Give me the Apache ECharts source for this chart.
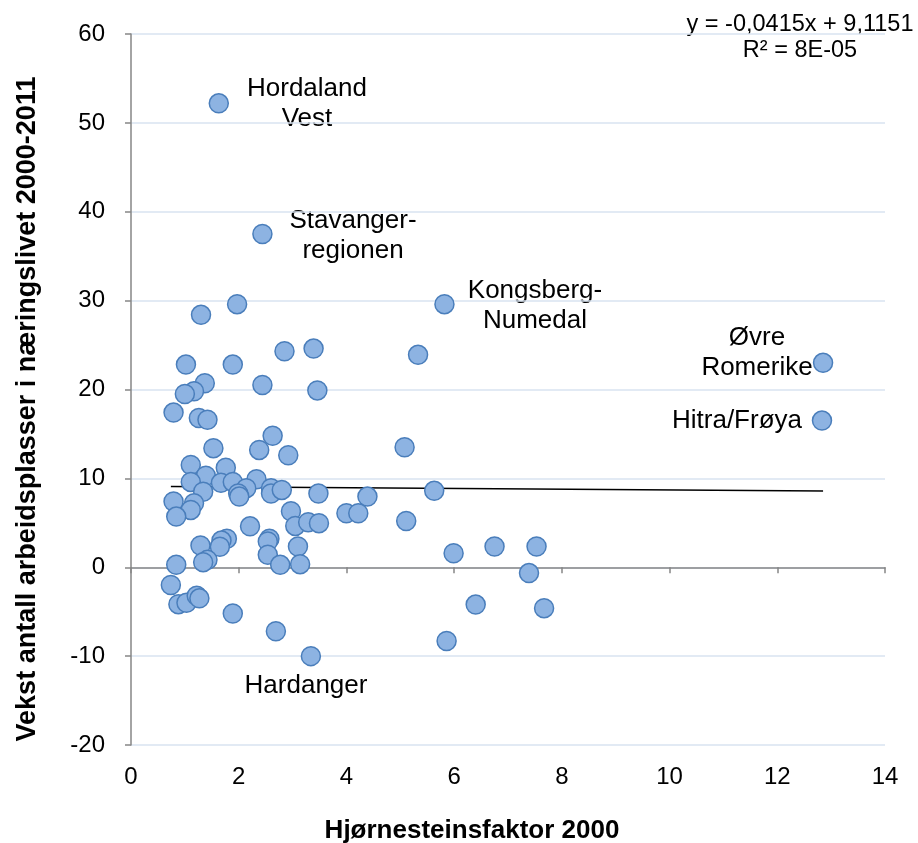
<!DOCTYPE html>
<html>
<head>
<meta charset="utf-8">
<script src="https://cdn.jsdelivr.net/npm/echarts@6/dist/echarts.min.js"></script>
<style>
  html, body { margin: 0; padding: 0; background: #fff; }
  #main { width: 918px; height: 843px; }
</style>
</head>
<body>
<div id="main"></div>
<script>
// hjørnesteinsfaktor (x) og vekst (y) per region
var hjornestein = [
  1.63, 2.44, 5.82, 12.85, 12.83, 3.34, 1.30, 1.97, 2.85, 3.39,
  5.33, 1.02, 1.89, 1.37, 1.17, 1.00, 2.44, 3.46, 0.79, 1.26,
  1.42, 1.53, 2.63, 2.38, 2.92, 1.11, 1.76, 1.39, 1.11, 1.67,
  1.89, 2.33, 2.14, 1.99, 2.01, 1.34, 2.60, 2.60, 2.80, 3.48,
  4.39, 0.79, 1.17, 1.11, 0.84, 2.97, 3.05, 3.29, 3.49, 4.00,
  4.22, 2.21, 1.78, 1.68, 1.65, 1.29, 1.42, 1.34, 0.84, 2.57,
  2.54, 2.54, 2.77, 3.10, 3.14, 0.74, 5.08, 5.63, 5.11, 5.99,
  6.75, 7.53, 7.39, 6.40, 7.67, 5.86, 0.88, 1.03, 1.22, 1.27,
  1.89, 2.69
]
var vekst = [
  52.2, 37.5, 29.6, 23.0, 16.5, -10.0, 28.4, 29.6, 24.3, 24.6,
  23.9, 22.8, 22.8, 20.7, 19.8, 19.5, 20.5, 19.9, 17.4, 16.8,
  16.6, 13.4, 14.8, 13.2, 12.6, 11.5, 11.2, 10.3, 9.6, 9.5,
  9.6, 9.9, 8.9, 8.3, 7.95, 8.5, 8.9, 8.3, 8.7, 8.3,
  7.95, 7.4, 7.2, 6.45, 5.7, 6.3, 4.65, 5.07, 4.96, 6.08,
  6.08, 4.6, 3.2, 3.0, 2.3, 2.45, 0.83, 0.57, 0.27, 3.2,
  2.9, 1.4, 0.27, 2.33, 0.35, -2.0, 13.5, 8.6, 5.2, 1.58,
  2.33, 2.33, -0.66, -4.2, -4.6, -8.3, -4.15, -4.0, -3.2, -3.5,
  -5.2, -7.2
]
// lineær trendlinje (endepunkter)
var trendX = [0.74, 12.85]
var trendY = [9.08, 8.58]
var trendTekst = ['y = -0,0415x + 9,1151', 'R² = 8E-05']

var regionTekst = ['Hordaland\nVest', 'Stavanger-\nregionen', 'Kongsberg-\nNumedal', 'Øvre\nRomerike', 'Hitra/Frøya', 'Hardanger']
// plassering av etikettene (px)
var regionPos = [[307, 104], [353, 236], [535, 306], [757, 353], [737, 421], [306, 686]]

var punkter = hjornestein.map(function (x, i) { return [x, vekst[i]] })
var trend = trendX.map(function (x, i) { return [x, trendY[i]] })

var font = 'Liberation Sans, Arial, sans-serif'
var myChart = echarts.init(document.getElementById('main'))

var graphics = regionTekst.map(function (t, i) {
  return {
    type: 'text',
    x: regionPos[i][0],
    y: regionPos[i][1],
    style: {
      text: t, fill: '#000', font: '26px ' + font, lineHeight: 30,
      align: 'center', verticalAlign: 'middle'
    }
  }
})
graphics.push({
  type: 'text', x: 800, y: 38,
  style: { text: trendTekst.join('\n'), fill: '#000', font: '23.5px ' + font, lineHeight: 26, align: 'center', verticalAlign: 'middle' }
})
graphics.push({
  type: 'text', x: 472, y: 831,
  style: { text: 'Hjørnesteinsfaktor 2000', fill: '#000', font: 'bold 26px ' + font, align: 'center', verticalAlign: 'middle' }
})
graphics.push({
  type: 'text', x: 28, y: 409, rotation: Math.PI / 2,
  style: { text: 'Vekst antall arbeidsplasser i næringslivet 2000-2011', fill: '#000', font: 'bold 27px ' + font, align: 'center', verticalAlign: 'middle' }
})

var option = {
  animation: false,
  grid: { left: 131, right: 33, top: 34, bottom: 98, containLabel: false },
  xAxis: [
    {
      type: 'value', min: 0, max: 14, interval: 2,
      axisLine: { show: false, onZero: false },
      axisTick: { show: false },
      splitLine: { show: false },
      axisLabel: { fontSize: 24, color: '#000', fontFamily: font, margin: 20 }
    },
    {
      type: 'value', min: 0, max: 14, interval: 2, position: 'bottom',
      axisLine: { show: true, onZero: true, lineStyle: { color: '#868686', width: 1.5 } },
      axisTick: { show: true, length: 6, lineStyle: { color: '#868686', width: 1.5 } },
      axisLabel: { show: false },
      splitLine: { show: false }
    }
  ],
  yAxis: {
    type: 'value', min: -20, max: 60, interval: 10,
    axisLine: { show: true, lineStyle: { color: '#868686', width: 1.5 } },
    axisTick: { show: true, length: 6, lineStyle: { color: '#868686', width: 1.5 } },
    axisLabel: { fontSize: 24, color: '#000', fontFamily: font, margin: 26 },
    splitLine: { lineStyle: { color: '#D9E3F1', width: 1.5 } }
  },
  series: [
    {
      type: 'line',
      data: trend,
      symbol: 'none',
      lineStyle: { color: '#000', width: 1.5 },
      z: 3
    },
    {
      type: 'scatter',
      data: punkter,
      symbol: 'circle',
      symbolSize: 19,
      itemStyle: { color: '#8DB3E2', borderColor: '#4A7EBB', borderWidth: 1.5, opacity: 1 },
      z: 4
    }
  ],
  graphic: graphics
}
myChart.setOption(option)
</script>
</body>
</html>
